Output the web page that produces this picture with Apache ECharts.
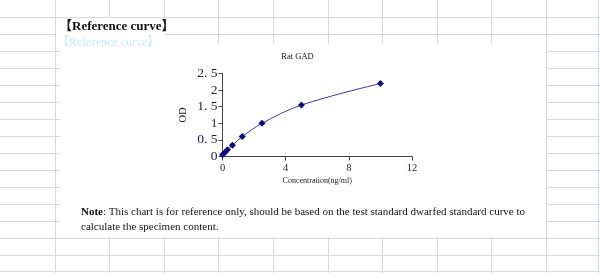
<!DOCTYPE html>
<html>
<head>
<meta charset="utf-8">
<script src="https://cdn.jsdelivr.net/npm/echarts@6/dist/echarts.min.js"></script>
<style>
html,body{margin:0;padding:0;background:#fff;}
#main{width:600px;height:273px;}
</style>
</head>
<body>
<div id="main"></div>
<script>
// ---- data ----
var chartTitle = 'Rat GAD';
var concentration = [0, 0.156, 0.312, 0.625, 1.25, 2.5, 5, 10];
var odValues = [0.05, 0.12, 0.2, 0.34, 0.6, 1.0, 1.55, 2.2];
var xAxisName = 'Concentration(ng/ml)';
var yAxisName = 'OD';
var pageTitle = '【Reference curve】';
var noteLine1 = 'This chart is for reference only, should be based on the test standard dwarfed standard curve to';
var noteLine2 = 'calculate the specimen content.';

var serif = '"Liberation Serif","Times New Roman","DejaVu Serif",serif';
var gridColor = '#d5d7e0';

// spreadsheet background decoration
var els = [];
var colW = 54.6, rowH = 17;
for (var k = 1; k <= 10; k++) {
  els.push({type:'line', shape:{x1:Math.round(colW*k)+0.5, y1:0, x2:Math.round(colW*k)+0.5, y2:273}, style:{stroke:gridColor, lineWidth:1}, silent:true});
}
els.push({type:'line', shape:{x1:598.5, y1:0, x2:598.5, y2:273}, style:{stroke:gridColor, lineWidth:1}, silent:true});
for (var r = 1; r <= 15; r++) {
  els.push({type:'line', shape:{x1:0, y1:rowH*r+0.5, x2:600, y2:rowH*r+0.5}, style:{stroke:gridColor, lineWidth:1}, silent:true});
}
els.push({type:'line', shape:{x1:0, y1:271.5, x2:600, y2:271.5}, style:{stroke:gridColor, lineWidth:1}, silent:true});
// white chart object & title cell
els.push({type:'rect', shape:{x:60, y:44, width:486, height:193.5}, style:{fill:'#fff'}, silent:true});
els.push({type:'rect', shape:{x:56, y:18, width:109, height:27}, style:{fill:'#fff'}, silent:true});
// texts
els.push({type:'text', x:57, y:43, style:{text:pageTitle, font:'normal 12px "Liberation Serif","Noto Sans CJK SC",serif', fill:'#c4f0fa', textVerticalAlign:'middle'}, silent:true});
els.push({type:'text', x:59, y:27, style:{text:pageTitle, font:'bold 13px "Liberation Serif","Noto Sans CJK SC",serif', fill:'#111', textVerticalAlign:'middle'}, silent:true});
els.push({type:'text', x:81, y:212.5, style:{text:'{b|Note}: ' + noteLine1, font:'11px ' + serif, fill:'#111', textVerticalAlign:'middle', rich:{b:{fontWeight:'bold', fontFamily:serif, fontSize:11, fill:'#111'}}}, silent:true});
els.push({type:'text', x:81, y:227, style:{text:noteLine2, font:'11px ' + serif, fill:'#111', textVerticalAlign:'middle'}, silent:true});

var chart = echarts.init(document.getElementById('main'), null, {renderer:'canvas'});
chart.setOption({
  animation: false,
  backgroundColor: '#fff',
  graphic: {elements: els, z: -1},
  title: {
    text: chartTitle,
    left: 292.5, top: 47, textAlign: 'center',
    textStyle: {fontFamily: serif, fontSize: 8.5, fontWeight: 'normal', color: '#111'}
  },
  grid: {left: 222.5, top: 73.5, right: 188, bottom: 116.5, containLabel: false},
  xAxis: {
    type: 'value', min: 0, max: 12, interval: 4,
    name: xAxisName, nameLocation: 'middle', nameGap: 20,
    nameTextStyle: {fontFamily: serif, fontSize: 8, color: '#222'},
    axisLine: {lineStyle: {color: '#444', width: 1}},
    axisTick: {show: true, length: 4, lineStyle: {color: '#444'}},
    axisLabel: {fontFamily: serif, fontSize: 10.5, color: '#222', margin: 6},
    splitLine: {show: false}
  },
  yAxis: {
    type: 'value', min: 0, max: 2.5, interval: 0.5,
    name: yAxisName, nameLocation: 'middle', nameGap: 34, nameRotate: 90,
    nameTextStyle: {fontFamily: serif, fontSize: 10.5, color: '#222'},
    axisLine: {show: true, lineStyle: {color: '#444', width: 1}},
    axisTick: {show: true, length: 4, lineStyle: {color: '#444'}},
    axisLabel: {fontFamily: serif, fontSize: 13.5, color: '#1c1c48', margin: 5,
      formatter: function (v) { return String(v).replace('.', '. '); }},
    splitLine: {show: false}
  },
  series: [{
    type: 'line',
    data: concentration.map(function (c, i) { return [c, odValues[i]]; }),
    smooth: 0.35,
    symbol: 'diamond', symbolSize: 7,
    lineStyle: {color: '#3a3aa8', width: 1},
    itemStyle: {color: '#0a0a80'}
  }]
});
</script>
</body>
</html>
